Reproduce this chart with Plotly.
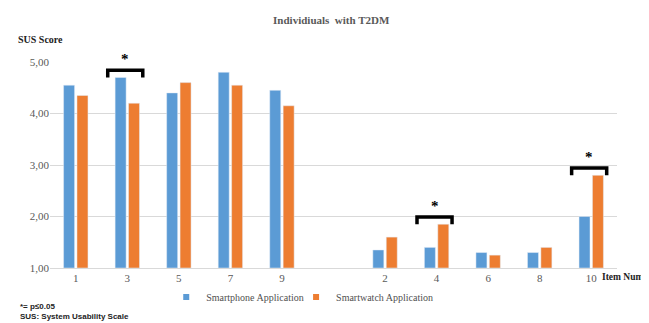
import plotly.graph_objects as go

items = ["1", "3", "5", "7", "9", " ", "2", "4", "6", "8", "10"]
smartphone = [4.55, 4.70, 4.40, 4.80, 4.45, None, 1.35, 1.40, 1.30, 1.30, 2.00]
smartwatch = [4.35, 4.20, 4.60, 4.55, 4.15, None, 1.60, 1.85, 1.25, 1.40, 2.80]
significant = ["3", "4", "10"]
y_ticks = [1, 2, 3, 4, 5]

BLUE = "#5B9BD5"
ORANGE = "#ED7D31"
SERIF = "Liberation Serif, Times New Roman, DejaVu Serif, serif"
SANS = "Liberation Sans, Arial, sans-serif"
GRAY = "#595959"

fig = go.Figure()
fig.add_trace(go.Bar(x=items, y=[None if v is None else v - 1 for v in smartphone],
                     base=1, name="Smartphone Application", marker_color=BLUE,
                     showlegend=False))
fig.add_trace(go.Bar(x=items, y=[None if v is None else v - 1 for v in smartwatch],
                     base=1, name="Smartwatch Application", marker_color=ORANGE,
                     showlegend=False))
for name, col, lg in [("Smartphone Application", BLUE, "legend"),
                      ("Smartwatch Application", ORANGE, "legend2")]:
    fig.add_trace(go.Scatter(x=[None], y=[None], mode="markers", name=name, legend=lg,
                             marker=dict(symbol="square", size=6, color=col)))

shapes = []
annotations = []
for it in significant:
    i = items.index(it)
    top = max(smartphone[i], smartwatch[i])
    yt = top + 0.14
    x0, x1 = i - 0.38, i + 0.30
    shapes.append(dict(type="path", xref="x", yref="y",
                       path=f"M {x0},{top} L {x0},{yt} L {x1},{yt} L {x1},{top}",
                       line=dict(color="black", width=3.5)))
    annotations.append(dict(x=i - 0.04, y=yt + 0.02, xref="x", yref="y", text="<b>*</b>",
                            showarrow=False, yanchor="bottom",
                            font=dict(family=SERIF, size=15, color="black")))

annotations += [
    dict(x=-0.06, y=1.107, xref="paper", yref="paper", text="<b>SUS Score</b>",
         showarrow=False, xanchor="left", yanchor="middle",
         font=dict(family=SERIF, size=10, color="#222")),
    dict(x=0.970, y=-0.044, xref="paper", yref="paper", text="<b>Item Number</b>",
         showarrow=False, xanchor="left", yanchor="middle",
         font=dict(family=SERIF, size=9.5, color="#222")),
    dict(x=-0.056, y=-0.189, xref="paper", yref="paper", text="<b>*= p≤0.05</b>",
         showarrow=False, xanchor="left", yanchor="middle",
         font=dict(family=SANS, size=8, color="#222")),
    dict(x=-0.056, y=-0.235, xref="paper", yref="paper", text="<b>SUS: System Usability Scale</b>",
         showarrow=False, xanchor="left", yanchor="middle",
         font=dict(family=SANS, size=8, color="#222")),
]

legend_style = dict(orientation="h", xanchor="left", y=-0.141, yanchor="middle",
                    font=dict(family=SERIF, size=10, color="#505050"),
                    bgcolor="rgba(0,0,0,0)")

fig.update_layout(
    width=641, height=315,
    margin=dict(l=42, r=32, t=54, b=55, autoexpand=False),
    paper_bgcolor="white", plot_bgcolor="white",
    barmode="group", bargap=0.48, bargroupgap=0.18,
    separators=", ",
    title=dict(text="<b>Individiuals  with T2DM</b>", xref="paper", x=0.496, xanchor="center",
               y=1 - 12 / 315, yanchor="middle",
               font=dict(family=SERIF, size=11, color=GRAY)),
    legend=dict(x=0.205, **legend_style),
    legend2=dict(x=0.434, **legend_style),
    shapes=shapes,
    annotations=annotations,
    xaxis=dict(type="category", categoryorder="array", categoryarray=items,
               showgrid=False, showline=True, linecolor="#d9d9d9", linewidth=1,
               tickfont=dict(family=SERIF, size=11, color=GRAY), ticks=""),
    yaxis=dict(range=[1, 5], tickvals=y_ticks, tickformat=".2f",
               showgrid=True, gridcolor="#d9d9d9", gridwidth=1, zeroline=False,
               showline=False, ticks="",
               tickfont=dict(family=SERIF, size=11, color=GRAY)),
)

fig.write_html("out.html")
